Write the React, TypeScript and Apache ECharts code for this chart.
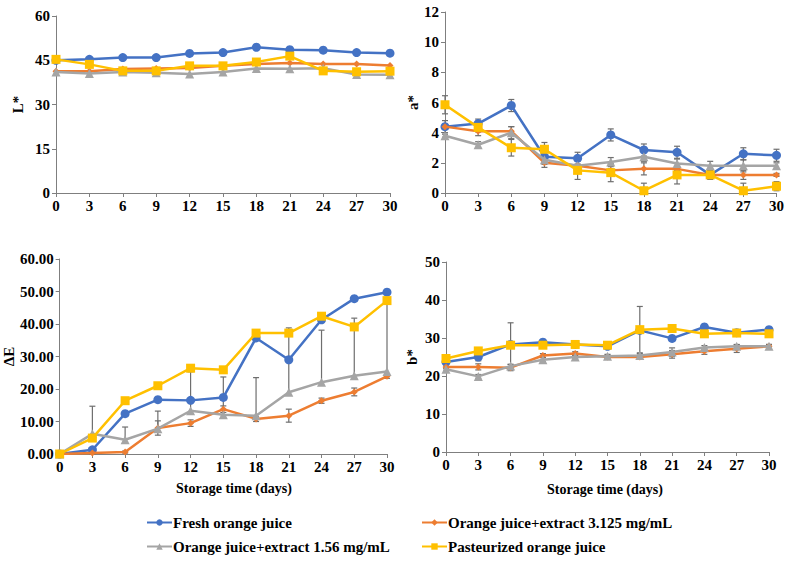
import React, { useEffect, useRef } from "react";
import * as echarts from "echarts";

const days = [0, 3, 6, 9, 12, 15, 18, 21, 24, 27, 30];
const seriesNames = [
  "Fresh orange juice",
  "Orange juice+extract 3.125 mg/mL",
  "Orange juice+extract 1.56 mg/mL",
  "Pasteurized orange juice",
];

// L*
const lFresh = [45.0, 45.3, 45.9, 45.9, 47.3, 47.6, 49.4, 48.6, 48.4, 47.6, 47.4];
const lExt3125 = [41.3, 41.3, 42.0, 42.2, 42.4, 43.1, 43.7, 44.1, 43.7, 43.7, 43.2];
const lExt156 = [41.0, 40.5, 41.0, 40.8, 40.3, 41.0, 42.2, 42.1, 42.3, 40.2, 40.1];
const lPast = [45.3, 43.6, 41.4, 41.4, 43.1, 43.1, 44.4, 46.4, 41.4, 41.1, 41.3];

// a*
const aFresh = [4.4, 4.6, 5.8, 2.4, 2.3, 3.85, 2.85, 2.7, 1.2, 2.6, 2.5];
const aExt3125 = [4.4, 4.1, 4.1, 2.0, 1.8, 1.5, 1.6, 1.6, 1.2, 1.2, 1.2];
const aExt156 = [3.8, 3.2, 4.0, 2.2, 1.8, 2.05, 2.4, 1.95, 1.8, 1.8, 1.8];
const aPast = [5.85, 4.35, 3.0, 2.9, 1.5, 1.35, 0.15, 1.2, 1.2, 0.15, 0.45];
const aErrFresh = [0.4, 0.3, 0.4, 0.3, 0.4, 0.4, 0.4, 0.4, 0.2, 0.4, 0.4];
const aErrExt3125 = [0.1, 0.3, 0.3, 0.3, 0.1, 0.1, 0.4, 0.1, 0.2, 0.3, 0.1];
const aErrExt156 = [0.1, 0.2, 0.4, 0.3, 0.1, 0.3, 0.3, 0.3, 0.3, 0.4, 0.2];
const aErrPast = [0.6, 0.3, 0.55, 0.45, 0.6, 0.6, 0.5, 0.6, 0.3, 0.5, 0.3];

// ΔE
const dFresh = [0, 1.3, 12.4, 16.7, 16.5, 17.4, 35.7, 29.0, 41.3, 47.8, 49.8];
const dExt3125 = [0, 0.3, 0.6, 8.0, 9.5, 13.8, 10.8, 11.8, 16.4, 19.1, 23.9];
const dExt156 = [0, 6.2, 4.4, 7.8, 13.3, 12.1, 11.8, 19.0, 22.1, 24.1, 25.4];
const dPast = [0, 4.9, 16.4, 21.0, 26.4, 25.9, 37.2, 37.2, 42.4, 39.1, 47.2];
const dErrFresh = [0, 0.5, 0.5, 0.5, 0.5, 0.5, 0.5, 0.5, 0.5, 0.5, 0.5];
const dErrExt3125 = [0, 0.3, 0.3, 2.2, 1.0, 1.0, 0.8, 2.0, 0.8, 1.2, 0.6];
const dErrExt156Up = [0, 8.5, 3.9, 5.4, 12.0, 11.6, 11.7, 19.8, 16.0, 17.7, 21.5];
const dErrPast = [0, 0.5, 0.5, 0.5, 0.5, 0.5, 0.5, 0.5, 0.5, 0.5, 0.5];

// b*
const bFresh = [23.7, 25.0, 28.3, 28.9, 28.3, 27.8, 32.0, 29.9, 32.9, 31.4, 32.2];
const bExt3125 = [22.4, 22.4, 22.2, 25.4, 25.9, 25.0, 25.0, 25.7, 26.5, 27.2, 27.8];
const bExt156 = [21.8, 19.9, 22.6, 24.3, 25.0, 25.2, 25.4, 26.3, 27.5, 27.8, 27.8];
const bPast = [24.6, 26.6, 28.1, 28.1, 28.3, 28.1, 32.2, 32.5, 31.1, 31.3, 31.1];
const bErrFresh = [0.5, 1.0, 0.5, 0.5, 0.5, 0.5, 0.5, 0.5, 0.5, 0.5, 0.5];
const bErrExt3125 = [0.5, 0.8, 0.8, 0.5, 0.5, 0.5, 0.5, 1.0, 0.8, 1.0, 0.5];
const bErrExt156 = [0.5, 0.5, 0.5, 0.5, 0.5, 0.5, 0.5, 1.1, 0.5, 0.5, 0.5];
const bErrPast = [1.0, 0.5, 5.9, 0.5, 0.5, 0.5, 6.1, 0.5, 0.5, 0.5, 0.5];

const colors = ["#4472C4", "#ED7D31", "#A5A5A5", "#FFC000"];
const symbols = ["circle", "diamond", "triangle", "rect"];
const symbolSizes = [9, 7, 9, 9];
const FONT = "'Liberation Serif', 'Times New Roman', serif";
const AXIS_COLOR = "#7f7f7f";
const ERR_COLOR = "#6e6e6e";

export default function App() {
  const ref = useRef<HTMLDivElement>(null);
  useEffect(() => {
    if (!ref.current) return;
    const chart = echarts.init(ref.current, undefined, { renderer: "svg" });

    const grids = [
      { left: 56, top: 16, width: 334, height: 177 },
      { left: 445, top: 12, width: 334, height: 181 },
      { left: 54, top: 259, width: 333, height: 195 },
      { left: 446, top: 262, width: 323, height: 190 },
    ];

    const labelStyle = { fontFamily: FONT, fontWeight: "bold", fontSize: 15, color: "#000" };

    const xAxes = grids.map((_, i) => ({
      type: "value",
      gridIndex: i,
      min: 0,
      max: 30,
      interval: 3,
      axisLine: { lineStyle: { color: AXIS_COLOR, width: 1 } },
      axisTick: { show: true, length: 4, lineStyle: { color: AXIS_COLOR } },
      axisLabel: { ...labelStyle, margin: 5 },
      splitLine: { show: false },
    }));

    const yCfg = [
      { max: 60, interval: 15, name: "L*", gap: 31, fmt: (v: number) => String(v) },
      { max: 12, interval: 2, name: "a*", gap: 18, fmt: (v: number) => String(v) },
      { max: 60, interval: 10, name: "ΔE", gap: 42, fmt: (v: number) => v.toFixed(2) },
      { max: 50, interval: 10, name: "b*", gap: 27, fmt: (v: number) => String(v) },
    ];

    const yAxes = yCfg.map((c, i) => ({
      type: "value",
      gridIndex: i,
      min: 0,
      max: c.max,
      interval: c.interval,
      name: c.name,
      nameLocation: "middle",
      nameGap: c.gap,
      nameRotate: 90,
      nameTextStyle: { fontFamily: FONT, fontWeight: "bold", fontSize: 15, color: "#000" },
      axisLine: { show: true, lineStyle: { color: AXIS_COLOR, width: 1 } },
      axisTick: { show: true, length: 4, lineStyle: { color: AXIS_COLOR } },
      axisLabel: { ...labelStyle, margin: 6, formatter: c.fmt },
      splitLine: { show: false },
    }));

    const panels = [
      [lFresh, lExt3125, lExt156, lPast],
      [aFresh, aExt3125, aExt156, aPast],
      [dFresh, dExt3125, dExt156, dPast],
      [bFresh, bExt3125, bExt156, bPast],
    ];

    // [up, down] errors per panel per series
    const errs: (null | [number[], number[]])[][] = [
      [null, null, null, null],
      [
        [aErrFresh, aErrFresh],
        [aErrExt3125, aErrExt3125],
        [aErrExt156, aErrExt156],
        [aErrPast, aErrPast],
      ],
      [
        [dErrFresh, dErrFresh],
        [dErrExt3125, dErrExt3125],
        [dErrExt156Up, days.map(() => 0)],
        [dErrPast, dErrPast],
      ],
      [
        [bErrFresh, bErrFresh],
        [bErrExt3125, bErrExt3125],
        [bErrExt156, bErrExt156],
        [bErrPast, bErrPast],
      ],
    ];

    const series: any[] = [];
    panels.forEach((vals, p) => {
      vals.forEach((arr, s) => {
        const e = errs[p][s];
        if (e) {
          series.push({
            type: "custom",
            xAxisIndex: p,
            yAxisIndex: p,
            z: 1,
            silent: true,
            data: days.map((d, k) => [d, arr[k], e[0][k], e[1][k]]),
            renderItem: (params: any, api: any) => {
              const x = api.value(0);
              const y = api.value(1);
              const up = api.value(2);
              const dn = api.value(3);
              const children: any[] = [];
              const c = api.coord([x, y]);
              const style = { stroke: ERR_COLOR, lineWidth: 1.2 };
              if (up > 0) {
                const t = api.coord([x, y + up]);
                children.push({ type: "line", shape: { x1: c[0], y1: c[1], x2: t[0], y2: t[1] }, style });
                children.push({ type: "line", shape: { x1: t[0] - 3, y1: t[1], x2: t[0] + 3, y2: t[1] }, style });
              }
              if (dn > 0) {
                const yb = Math.max(0, y - dn);
                const b = api.coord([x, yb]);
                children.push({ type: "line", shape: { x1: c[0], y1: c[1], x2: b[0], y2: b[1] }, style });
                children.push({ type: "line", shape: { x1: b[0] - 3, y1: b[1], x2: b[0] + 3, y2: b[1] }, style });
              }
              return { type: "group", children };
            },
          });
        }
        series.push({
          type: "line",
          name: seriesNames[s],
          xAxisIndex: p,
          yAxisIndex: p,
          z: 2 + s,
          data: days.map((d, k) => [d, arr[k]]),
          symbol: symbols[s],
          symbolSize: symbolSizes[s],
          showAllSymbol: true,
          lineStyle: { color: colors[s], width: 2.5 },
          itemStyle: { color: colors[s] },
        });
      });
    });

    const legendPos = [
      { left: 141, top: 510 },
      { left: 416, top: 510 },
      { left: 141, top: 534 },
      { left: 416, top: 534 },
    ];
    const legends = seriesNames.map((n, i) => ({
      data: [n],
      left: legendPos[i].left,
      top: legendPos[i].top,
      itemWidth: 25,
      itemHeight: 8,
      itemGap: 2,
      selectedMode: false,
      textStyle: { fontFamily: FONT, fontWeight: "bold", fontSize: 15, color: "#000", padding: [0, 0, 0, -4] },
    }));

    chart.setOption({
      animation: false,
      backgroundColor: "#fff",
      grid: grids.map((g) => ({ ...g, containLabel: false })),
      xAxis: xAxes,
      yAxis: yAxes,
      legend: legends,
      graphic: [
        {
          type: "text",
          x: 234,
          y: 488,
          style: {
            text: "Storage time (days)",
            fontFamily: FONT,
            fontWeight: "bold",
            fontSize: 14,
            fill: "#000",
            align: "center",
            verticalAlign: "middle",
          },
        },
        {
          type: "text",
          x: 605,
          y: 489,
          style: {
            text: "Storage time (days)",
            fontFamily: FONT,
            fontWeight: "bold",
            fontSize: 14,
            fill: "#000",
            align: "center",
            verticalAlign: "middle",
          },
        },
      ],
      series,
    });
    return () => chart.dispose();
  }, []);

  return (
    <div
      ref={ref}
      style={{ position: "absolute", left: 0, top: 0, width: 787, height: 570 }}
    />
  );
}
